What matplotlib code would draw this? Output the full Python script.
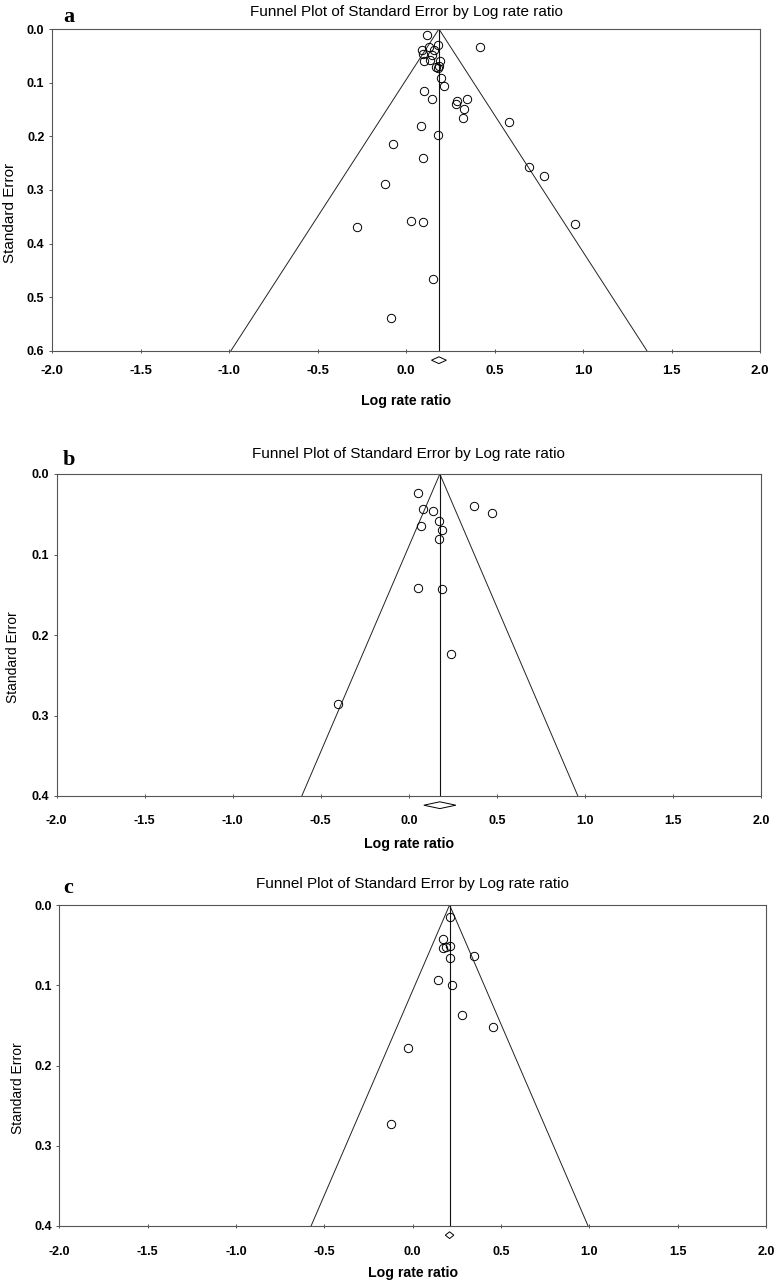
import matplotlib
matplotlib.use("Agg")
import matplotlib.pyplot as plt
import numpy as np
from matplotlib.patches import Polygon

plt.rcParams['font.family'] = ['Liberation Sans', 'DejaVu Sans']

# Data: study points (log rate ratio, standard error) per panel
a_log_rr = [0.117, 0.418, 0.181, 0.132, 0.089, 0.160, 0.098, 0.145, 0.192, 0.103,
            0.136, 0.169, 0.179, 0.185, 0.198, 0.215, 0.103, 0.149, 0.286, 0.284,
            0.343, 0.329, 0.324, 0.584, 0.086, 0.182, -0.072, 0.094, 0.695, 0.780,
            -0.117, -0.275, -0.083, 0.955, 0.028, 0.094, 0.154]
a_se = [0.011, 0.033, 0.030, 0.033, 0.040, 0.039, 0.047, 0.048, 0.059, 0.059,
        0.058, 0.070, 0.073, 0.069, 0.092, 0.106, 0.115, 0.130, 0.135, 0.140,
        0.131, 0.150, 0.165, 0.173, 0.181, 0.197, 0.215, 0.240, 0.258, 0.274,
        0.289, 0.369, 0.539, 0.363, 0.358, 0.360, 0.465]

b_log_rr = [0.053, 0.372, 0.471, 0.081, 0.135, 0.173, 0.070, 0.190, 0.169,
            0.053, 0.188, 0.238, -0.401]
b_se = [0.023, 0.040, 0.049, 0.044, 0.046, 0.059, 0.065, 0.070, 0.081,
        0.142, 0.143, 0.224, 0.286]

c_log_rr = [0.212, 0.171, 0.171, 0.190, 0.212, 0.212, 0.350, 0.146, 0.221,
            0.282, 0.454, -0.024, -0.120]
c_se = [0.015, 0.042, 0.053, 0.052, 0.051, 0.066, 0.064, 0.093, 0.100,
        0.137, 0.152, 0.178, 0.273]

# pooled estimate and its CI half-width (diamond), max SE shown
pooled = [0.186, 0.176, 0.209]
pooled_half = [0.042, 0.091, 0.024]
se_max = [0.6, 0.4, 0.4]
letters = ['a', 'b', 'c']

x_ticks = [-2.0, -1.5, -1.0, -0.5, 0.0, 0.5, 1.0, 1.5, 2.0]

W, H = 778, 1285
fig = plt.figure(figsize=(W / 100, H / 100), dpi=100)

# layout in pixels: left, right, top, bottom
boxes = [(52, 760, 29, 351), (56.7, 761, 474, 796), (59.3, 766, 905, 1226)]
title_base = [16, 458, 888]
letter_base = [22, 465, 893]
xlabel_base = [405, 848, 1277]
ylabel_x = [10, 13, 18]
xpad = [8.6, 12.2, 13.0]

panels = [(a_log_rr, a_se), (b_log_rr, b_se), (c_log_rr, c_se)]

for i, (lrr, se) in enumerate(panels):
    l, r, t, b = boxes[i]
    ax = fig.add_axes([l / W, 1 - b / H, (r - l) / W, (b - t) / H])
    m = pooled[i]
    smax = se_max[i]

    # funnel
    ax.plot([m - 1.96 * smax, m, m + 1.96 * smax], [smax, 0, smax],
            color='#222222', lw=0.7)
    ax.plot([m, m], [0, smax], color='#111111', lw=0.8)

    ax.plot(lrr, se, 'o', ms=6, mfc='none', mec='black', mew=0.7, clip_on=False)

    # diamond under axis
    yc = smax * (1 + 9.2 / 322)
    hh = smax * 3.4 / 322
    hw = pooled_half[i]
    ax.add_patch(Polygon([[m - hw, yc], [m, yc - hh], [m + hw, yc], [m, yc + hh]],
                         closed=True, fill=False, ec='black', lw=0.7, clip_on=False))

    ax.set_xlim(-2, 2)
    ax.set_ylim(smax, 0)
    ax.set_xticks(x_ticks)
    ax.set_xticklabels(['%.1f' % v for v in x_ticks])
    yt = np.arange(0, smax + 0.001, 0.1)
    ax.set_yticks(yt)
    ax.set_yticklabels(['%.1f' % v for v in yt])
    for s in ax.spines.values():
        s.set_color('#555555')
        s.set_linewidth(0.8)
    ax.tick_params(axis='x', direction='inout', length=3.5, width=0.7,
                   color='#555555', pad=xpad[i], labelsize=9.5 if i == 0 else 9)
    ax.tick_params(axis='y', direction='out', length=2.4, width=0.7,
                   color='#555555', pad=3, labelsize=9)
    for lab in ax.get_xticklabels() + ax.get_yticklabels():
        lab.set_fontweight('bold')

    ax.set_ylabel('Standard Error', fontsize=11 if i == 0 else 10, va='center')
    ax.yaxis.set_label_coords((ylabel_x[i] - l) / (r - l), 0.43)

    cx = (l + r) / 2 / W
    fig.text(cx, 1 - title_base[i] / H, 'Funnel Plot of Standard Error by Log rate ratio',
             ha='center', va='baseline', fontsize=11)
    fig.text(cx, 1 - xlabel_base[i] / H, 'Log rate ratio', ha='center',
             va='baseline', fontsize=10.2, fontweight='bold')
    fig.text(63 / W, 1 - letter_base[i] / H, letters[i], ha='left', va='baseline',
             fontsize=16, fontweight='bold', family=['Liberation Serif', 'DejaVu Serif'])

fig.savefig('out.png', dpi=100)
